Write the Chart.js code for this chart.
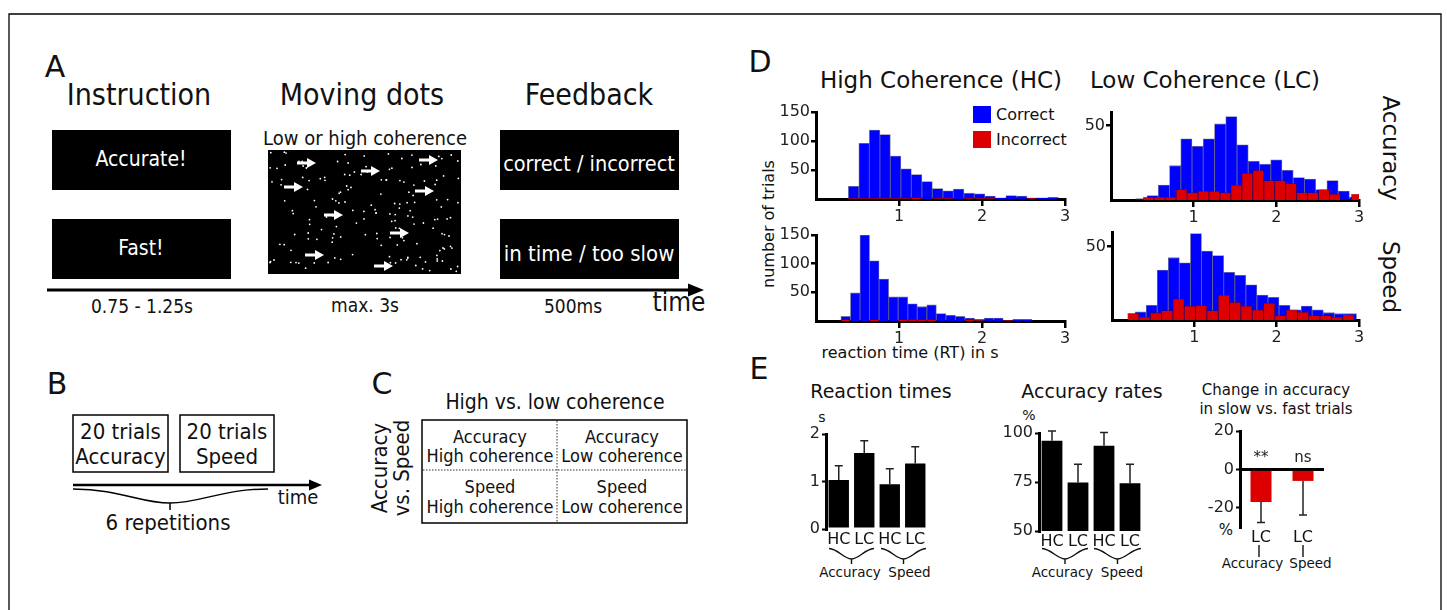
<!DOCTYPE html>
<html>
<head>
<meta charset="utf-8">
<script src="https://cdn.jsdelivr.net/npm/chart.js@4.4.1/dist/chart.umd.min.js"></script>
<style>
  body { margin: 0; background: #fff; }
  #fig { position: relative; width: 1447px; height: 610px; overflow: hidden;
         font-family: "DejaVu Sans", sans-serif; color: #111; background: #fff; }
  .t { position: absolute; white-space: nowrap; line-height: 1; transform: translate(-50%, -50%); }
  .cn { font-family: "DejaVu Sans Condensed", "DejaVu Sans", sans-serif; font-stretch: condensed; }
  canvas.cv { position: absolute; }
  svg { position: absolute; left: 0; top: 0; }
</style>
</head>
<body>
<div id="fig"></div>
<script>
// ---- data: D histograms (20 bins each, range = [first edge, last edge] in s) ----
const rtAxisTicks = [1, 2, 3];
const hcCountTicks = [50, 100, 150];
const lcCountTicks = [50];

const hcAccCorrectRange = [0.39, 2.92];
const hcAccCorrect = [22, 96, 119, 111, 74, 52, 42, 30, 18, 14, 17, 10, 9, 5, 2, 6, 5, 2, 2, 3];
const hcAccIncorrectRange = [0.39, 2.92];
const hcAccIncorrect = [1, 1, 1, 1, 1, 1, 3, 0, 1, 1, 0, 1, 1, 1, 0, 0, 0, 1, 0, 0];

const lcAccCorrectRange = [0.30, 3.02];
const lcAccCorrect = [1, 3, 10, 23, 41, 36, 41, 51, 56, 37, 26, 24, 27, 20, 15, 14, 7, 13, 6, 2];
const lcAccIncorrectRange = [0.39, 3.04];
const lcAccIncorrect = [2, 2, 2, 7, 5, 6, 6, 5, 10, 18, 20, 13, 13, 11, 5, 5, 7, 4, 0, 4];

const hcSpdCorrectRange = [0.30, 2.60];
const hcSpdCorrect = [8, 49, 150, 105, 73, 42, 42, 30, 25, 28, 13, 10, 8, 5, 3, 5, 5, 1, 3, 3];
const hcSpdIncorrectRange = [0.30, 2.60];
const hcSpdIncorrect = [2, 0, 0, 2, 0, 0, 2, 3, 2, 2, 0, 0, 0, 3, 1, 0, 0, 1, 0, 0];

const lcSpdCorrectRange = [0.28, 2.97];
const lcSpdCorrect = [5.5, 10, 34, 42.5, 39, 59, 47, 44, 32.5, 30.5, 24, 17, 15.5, 10, 7, 9.5, 7, 5, 4.3, 4.3];
const lcSpdIncorrectRange = [0.19, 2.94];
const lcSpdIncorrect = [4.5, 2, 5, 6.4, 14.5, 9.5, 10, 6.4, 17, 12, 9.5, 7, 11.5, 3, 7, 5.5, 3, 3, 2, 3.5];

// ---- data: E bar charts ----
const condLabels = ['HC', 'LC', 'HC', 'LC'];
const rtMean = [1.03, 1.60, 0.94, 1.38];
const rtErr = [0.30, 0.26, 0.33, 0.35];
const rtTicks = [0, 1, 2];
const accMean = [96, 74.7, 93.5, 74.3];
const accErr = [5, 9.3, 6.8, 9.7];
const accTicks = [50, 75, 100];
const changeLabels = ['LC', 'LC'];
const changeMean = [-17, -6];
const changeErr = [10.6, 17.8];
const changeSig = ['**', 'ns'];
const changeTicks = [-20, 0, 20];

const BLUE = '#0000ff';
const RED = '#dd0000';
const FONT = '"DejaVu Sans", sans-serif';
Chart.defaults.font.family = FONT;
Chart.defaults.color = '#222';

const fig = document.getElementById('fig');

// ---- static drawings (panels A-C, braces, frame) ----
const svg = [];
svg.push('<path d="M9,620 L9,14 L1441,14 L1441,620" fill="none" stroke="#000" stroke-width="1.3"/>');
// A: boxes
svg.push('<rect x="52" y="130" width="179" height="60" fill="#000"/>');
svg.push('<rect x="52" y="219" width="179" height="60" fill="#000"/>');
svg.push('<rect x="500" y="130" width="179" height="60" fill="#000"/>');
svg.push('<rect x="500" y="219" width="179" height="60" fill="#000"/>');
svg.push('<rect x="268" y="150" width="193" height="124" fill="#000"/>');
// dot field (decoration, fixed pseudo pattern)
let seed = 7;
function nextRand() { seed = (seed * 16807) % 2147483647; return seed / 2147483647; }
for (let i = 0; i < 170; i++) {
  const x = 270 + nextRand() * 189, y = 152 + nextRand() * 120;
  svg.push(`<circle cx="${x.toFixed(1)}" cy="${y.toFixed(1)}" r="0.9" fill="#fff"/>`);
}
const arrows = [[306, 163], [370, 171], [428, 160], [293, 187], [424, 191], [333, 215], [399, 233], [314, 255], [383, 266]];
arrows.forEach(([x, y]) => {
  svg.push(`<line x1="${x - 9}" y1="${y}" x2="${x + 3}" y2="${y}" stroke="#fff" stroke-width="3"/>`);
  svg.push(`<polygon points="${x + 1},${y - 5} ${x + 10},${y} ${x + 1},${y + 5}" fill="#fff"/>`);
});
svg.push('<line x1="47" y1="290" x2="692" y2="290" stroke="#000" stroke-width="3"/>');
svg.push('<polygon points="688,283.5 704,290 688,296.5" fill="#000"/>');
// B
svg.push('<rect x="73" y="415" width="95" height="57" fill="none" stroke="#000" stroke-width="1.5"/>');
svg.push('<rect x="180" y="415" width="94" height="57" fill="none" stroke="#000" stroke-width="1.5"/>');
svg.push('<line x1="73" y1="485" x2="312" y2="485" stroke="#000" stroke-width="2.5"/>');
svg.push('<polygon points="309,479.5 322,485 309,490.5" fill="#000"/>');
svg.push('<path d="M73,489 C120,489 140,503 170,503 C200,503 222,489 268,489 M170,503 L170,510" fill="none" stroke="#000" stroke-width="1.5"/>');
// C
svg.push('<rect x="422" y="420" width="265" height="103" fill="none" stroke="#000" stroke-width="1.5"/>');
svg.push('<line x1="557" y1="421" x2="557" y2="522" stroke="#333" stroke-width="1" stroke-dasharray="1.5,1.5"/>');
svg.push('<line x1="423" y1="470" x2="686" y2="470" stroke="#333" stroke-width="1.2" stroke-dasharray="1.5,1.5"/>');
// D legend squares
svg.push(`<rect x="973" y="106" width="18" height="17" fill="${BLUE}"/>`);
svg.push(`<rect x="973" y="131" width="18" height="17" fill="${RED}"/>`);
// E braces
function brace(x1, x2) {
  const xc = (x1 + x2) / 2;
  return `<path d="M${x1},548.5 C${x1 + 10},549.5 ${xc - 9},558 ${xc},559 C${xc + 9},558 ${x2 - 10},549.5 ${x2},548.5 M${xc},559 L${xc},564" fill="none" stroke="#111" stroke-width="1.4"/>`;
}
svg.push(brace(829, 874), brace(881, 926), brace(1042, 1088), brace(1094, 1141));
svg.push('<path d="M1259,545 L1259,557 M1303,545 L1303,557" stroke="#111" stroke-width="1.4"/>');
fig.insertAdjacentHTML('beforeend', `<svg width="1447" height="610">${svg.join('')}</svg>`);

function label(str, x, y, size, opts = {}) {
  const d = document.createElement('div');
  d.className = 't' + (opts.cond ? ' cn' : '');
  d.textContent = str;
  d.style.left = x + 'px';
  d.style.top = y + 'px';
  d.style.fontSize = size + 'px';
  if (opts.color) d.style.color = opts.color;
  if (opts.rot) d.style.transform = `translate(-50%,-50%) rotate(${opts.rot}deg)`;
  if (opts.left) d.style.transform = 'translate(0,-50%)';
  fig.appendChild(d);
}
const C = { cond: true };
const W = { cond: true, color: '#fff' };

// panel A
label('A', 55, 67, 30);
label('Instruction', 139, 95, 30, C);
label('Moving dots', 362, 95, 30, C);
label('Feedback', 589, 95, 30, C);
label('Low or high coherence', 365, 138, 20, C);
label('Accurate!', 141, 159, 21, W);
label('Fast!', 141, 248, 21, W);
label('correct / incorrect', 589, 164, 21.5, W);
label('in time / too slow', 589, 254, 22, W);
label('0.75 - 1.25s', 142, 306, 19, C);
label('max. 3s', 365, 305, 19, C);
label('500ms', 573, 306, 19, C);
label('time', 679, 302, 26, C);
// panel B
label('B', 57, 384, 30);
label('20 trials', 120.5, 432, 22, C);
label('Accuracy', 120.5, 457, 22, C);
label('20 trials', 227, 432, 22, C);
label('Speed', 227, 457, 22, C);
label('time', 298, 497, 20, C);
label('6 repetitions', 168, 523, 22, C);
// panel C
label('C', 382, 384, 30);
label('High vs. low coherence', 555, 402, 21, C);
label('Accuracy', 490, 437, 18, C);
label('High coherence', 490, 456, 18, C);
label('Accuracy', 622, 437, 18, C);
label('Low coherence', 622, 456, 18, C);
label('Speed', 490, 487, 18, C);
label('High coherence', 490, 507, 18, C);
label('Speed', 622, 487, 18, C);
label('Low coherence', 622, 507, 18, C);
label('Accuracy', 380, 468, 22, { cond: true, rot: -90 });
label('vs. Speed', 402, 468, 22, { cond: true, rot: -90 });
// panel D
label('D', 760, 62, 30);
label('High Coherence (HC)', 941, 80, 23);
label('Low Coherence (LC)', 1205, 80, 23);
label('Accuracy', 1390, 148, 23, { rot: 90 });
label('Speed', 1390, 277, 23, { rot: 90 });
label('number of trials', 769, 224, 16, { rot: -90 });
label('reaction time (RT) in s', 910, 353, 16);
label('Correct', 996, 115, 16, { left: true });
label('Incorrect', 996, 140, 16, { left: true });
// panel E
label('E', 759, 369, 30);
label('Reaction times', 881, 391, 19);
label('Accuracy rates', 1092, 391, 19);
label('Change in accuracy', 1276, 390, 15);
label('in slow vs. fast trials', 1276, 409, 15);
label('s', 822, 417, 14);
label('%', 1029, 415, 14);
label('%', 1226, 530, 15);
label('Accuracy', 850, 573, 13.5);
label('Speed', 909.5, 573, 13.5);
label('Accuracy', 1062.5, 573, 13.5);
label('Speed', 1122, 573, 13.5);
label('Accuracy', 1252.5, 564, 13.5);
label('Speed', 1310.5, 564, 13.5);

// ---- charts ----
const errorBars = {
  id: 'errorBars',
  afterDatasetsDraw(chart, args, opts) {
    if (!opts.errs) return;
    const meta = chart.getDatasetMeta(0);
    const y = chart.scales.y;
    const ctx = chart.ctx;
    const vals = chart.data.datasets[0].data;
    ctx.save();
    ctx.strokeStyle = '#222';
    ctx.lineWidth = 1.5;
    meta.data.forEach((bar, i) => {
      const v = vals[i];
      const y0 = y.getPixelForValue(v);
      const y1 = y.getPixelForValue(v + Math.sign(v) * opts.errs[i]);
      ctx.beginPath();
      ctx.moveTo(bar.x, y0); ctx.lineTo(bar.x, y1);
      ctx.moveTo(bar.x - 4, y1); ctx.lineTo(bar.x + 4, y1);
      ctx.stroke();
      if (opts.marks) {
        ctx.fillStyle = '#222';
        ctx.font = '15px ' + FONT;
        ctx.textAlign = 'center';
        ctx.textBaseline = 'bottom';
        ctx.fillText(opts.marks[i], bar.x, y.getPixelForValue(0) - 4);
      }
    });
    ctx.restore();
  }
};
Chart.register(errorBars);

function placeCanvas(plot, pad) {
  const c = document.createElement('canvas');
  const w = Math.round(plot[2] - plot[0] + pad.l + pad.r);
  const h = Math.round(plot[3] - plot[1] + pad.t + pad.b);
  c.width = w; c.height = h;
  c.className = 'cv';
  c.style.left = Math.round(plot[0] - pad.l) + 'px';
  c.style.top = Math.round(plot[1] - pad.t) + 'px';
  c.style.width = w + 'px';
  c.style.height = h + 'px';
  fig.appendChild(c);
  return c;
}

function binPoints(values, range) {
  const w = (range[1] - range[0]) / values.length;
  return values.map((v, i) => ({ x: range[0] + w * (i + 0.5), y: v }));
}

const HPAD = { l: 46, t: 14, r: 14, b: 26 };
function histChart(plot, yMax, yTicks, correct, cRange, incorrect, iRange) {
  const cv = placeCanvas(plot, HPAD);
  const axisGrid = { offset: false, drawOnChartArea: false, color: '#000', lineWidth: 2.5, tickLength: 5 };
  new Chart(cv, {
    type: 'bar',
    data: {
      datasets: [
        { data: binPoints(incorrect, iRange), backgroundColor: RED, borderColor: 'rgba(90,0,0,0.55)',
          borderWidth: 0.8, xAxisID: 'x2', order: 0, grouped: false, barPercentage: 1, categoryPercentage: 1 },
        { data: binPoints(correct, cRange), backgroundColor: BLUE, borderColor: 'rgba(0,0,90,0.55)',
          borderWidth: 0.8, xAxisID: 'x', order: 1, grouped: false, barPercentage: 1, categoryPercentage: 1 }
      ]
    },
    options: {
      responsive: false, animation: false, events: [],
      layout: { padding: { top: HPAD.t, right: HPAD.r } },
      plugins: { legend: { display: false }, tooltip: { enabled: false } },
      scales: {
        x: {
          type: 'linear', min: 0, max: 3, offset: false,
          afterBuildTicks: s => { s.ticks = rtAxisTicks.map(v => ({ value: v })); },
          afterFit: s => { s.height = HPAD.b; },
          border: { display: true, color: '#000', width: 3 },
          grid: Object.assign({}, axisGrid, { tickLength: 7 }),
          ticks: { font: { size: 16 }, padding: 1, maxRotation: 0 }
        },
        x2: { type: 'linear', min: 0, max: 3, offset: false, display: false, grid: { offset: false } },
        y: {
          min: 0, max: yMax,
          afterBuildTicks: s => { s.ticks = yTicks.map(v => ({ value: v })); },
          afterFit: s => { s.width = HPAD.l; },
          border: { display: true, color: '#000', width: 3 },
          grid: axisGrid,
          ticks: { font: { size: 16 }, padding: 1 }
        }
      }
    }
  });
}

histChart([816, 111.7, 1065, 198.3], 150, hcCountTicks, hcAccCorrect, hcAccCorrectRange, hcAccIncorrect, hcAccIncorrectRange);
histChart([1111, 111.7, 1358.5, 199.3], 59, lcCountTicks, lcAccCorrect, lcAccCorrectRange, lcAccIncorrect, lcAccIncorrectRange);
histChart([816, 235, 1065, 321], 150, hcCountTicks, hcSpdCorrect, hcSpdCorrectRange, hcSpdIncorrect, hcSpdIncorrectRange);
histChart([1111.7, 231.7, 1359, 320], 60, lcCountTicks, lcSpdCorrect, lcSpdCorrectRange, lcSpdIncorrect, lcSpdIncorrectRange);

const EPAD = { l: 44, t: 14, r: 10, b: 22 };
function barChart(plot, cats, means, errs, yMin, yMax, yTicks, color, barPct, marks) {
  const cv = placeCanvas(plot, EPAD);
  const zeroLine = yMin < 0;
  new Chart(cv, {
    type: 'bar',
    data: { labels: cats, datasets: [{ data: means, backgroundColor: color, barPercentage: barPct, categoryPercentage: 1 }] },
    options: {
      responsive: false, animation: false, events: [],
      layout: { padding: { top: EPAD.t, right: EPAD.r } },
      plugins: { legend: { display: false }, tooltip: { enabled: false }, errorBars: { errs: errs, marks: marks } },
      scales: {
        x: {
          afterFit: s => { s.height = EPAD.b; },
          border: { display: false },
          grid: { display: false, drawTicks: false },
          ticks: { font: { size: 16 }, padding: 1, color: '#111', maxRotation: 0, minRotation: 0, autoSkip: false }
        },
        y: {
          min: yMin, max: yMax,
          afterBuildTicks: s => { s.ticks = yTicks.map(v => ({ value: v })); },
          afterFit: s => { s.width = EPAD.l; },
          border: { display: true, color: '#000', width: 3 },
          grid: {
            drawOnChartArea: zeroLine,
            color: c => (c.tick && c.tick.value === 0 ? '#000' : 'rgba(0,0,0,0)'),
            lineWidth: 3,
            tickColor: '#000', tickWidth: 2, tickLength: 4
          },
          ticks: { font: { size: 16 }, padding: 2 }
        }
      }
    }
  });
}

barChart([826, 434, 928, 529], condLabels, rtMean, rtErr, 0, 2, rtTicks, '#000', 0.8);
barChart([1039, 433, 1143, 531], condLabels, accMean, accErr, 50, 100, accTicks, '#000', 0.8);
barChart([1240, 431, 1324, 527], changeLabels, changeMean, changeErr, -30, 20, changeTicks, RED, 0.5, changeSig);
</script>
</body>
</html>
